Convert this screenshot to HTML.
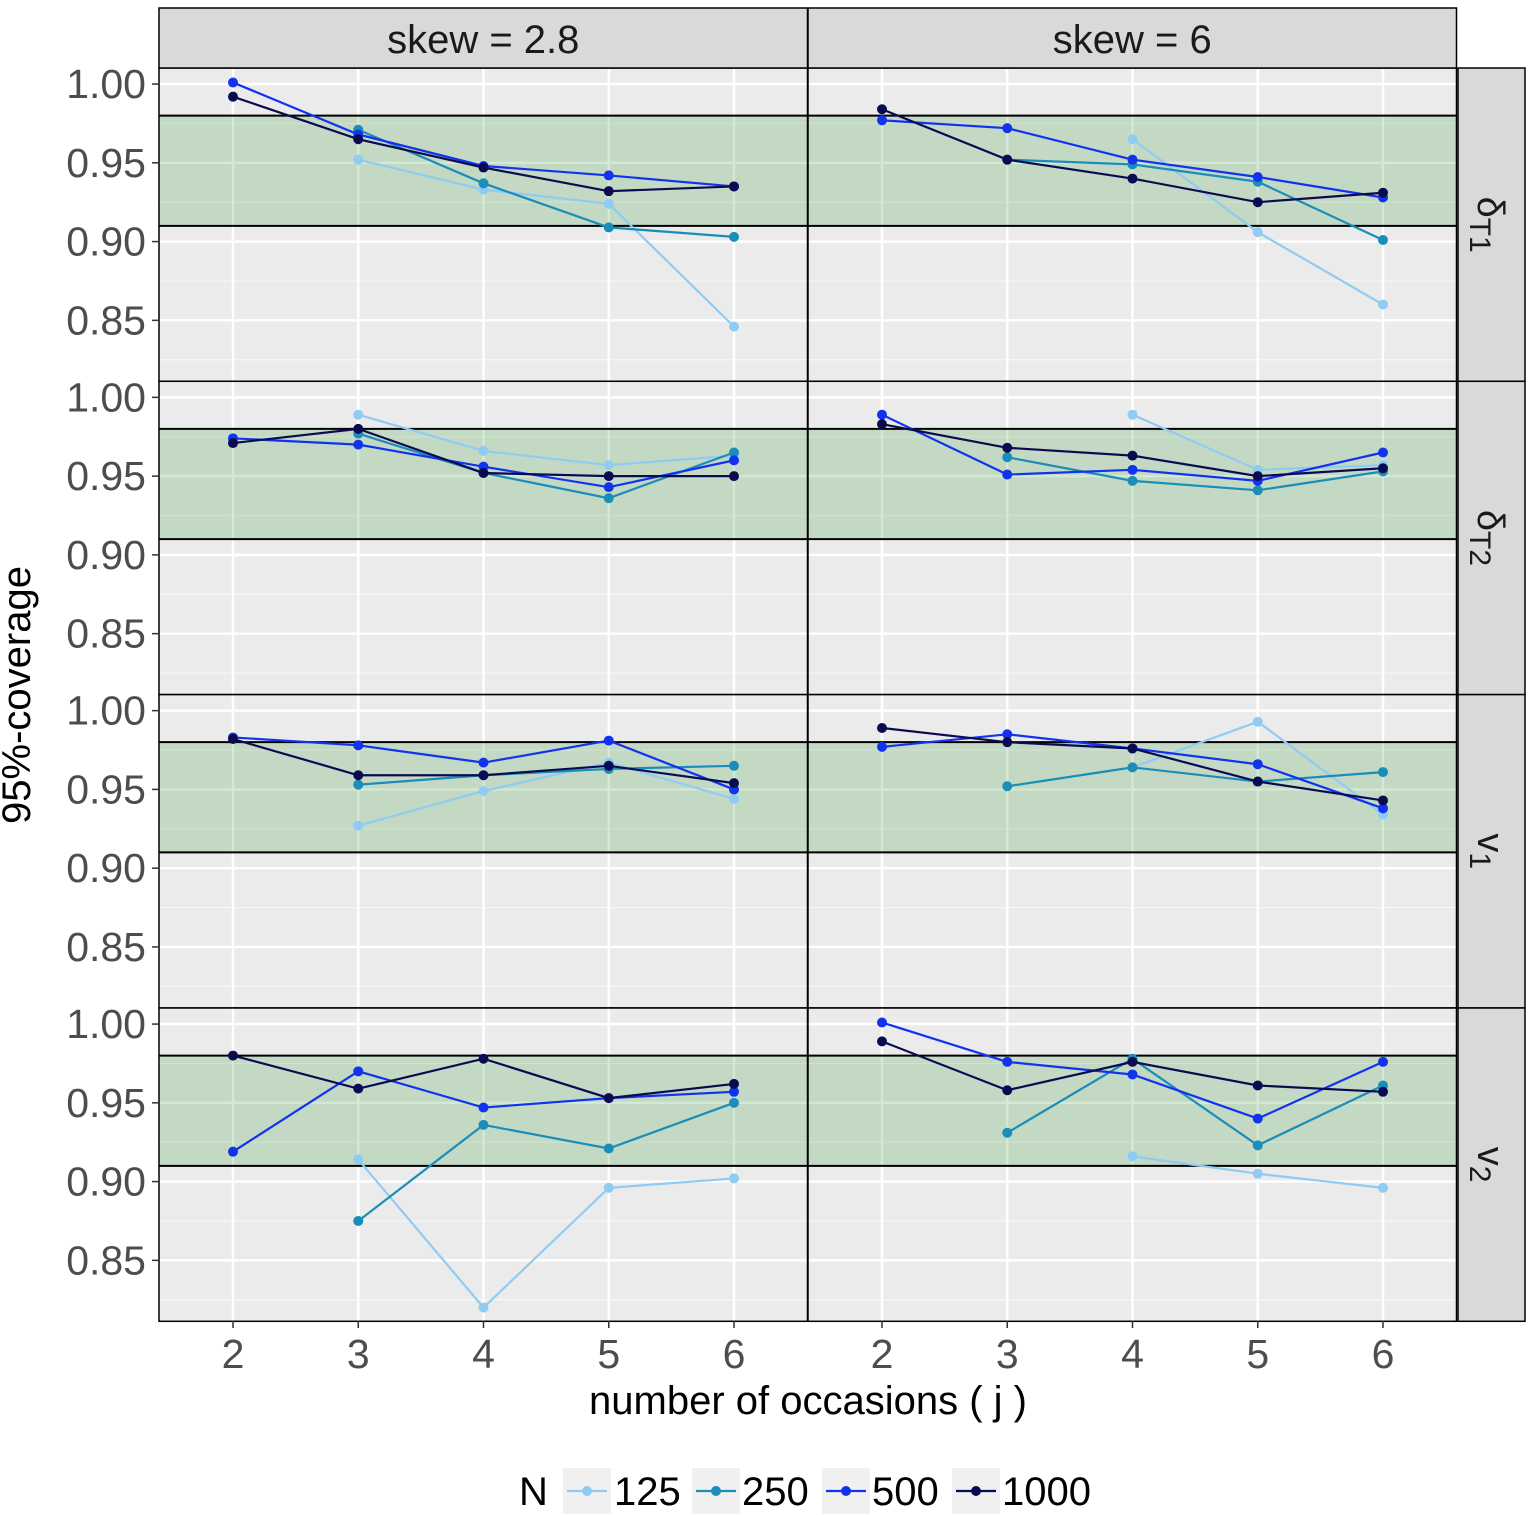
<!DOCTYPE html>
<html><head><meta charset="utf-8"><style>
html,body{margin:0;padding:0;background:#fff;}
svg{display:block;font-family:"Liberation Sans",sans-serif;}
</style></head><body>
<svg id="chart" width="1535" height="1515"></svg>
<script>
const categories=[2,3,4,5,6];
const seriesNames=["125","250","500","1000"];
const colors=["#8fcbf3","#1a8db8","#1233ee","#0b0b52"];
const rowLabels=[["δ","T1"],["δ","T2"],["v","1"],["v","2"]];
const colLabels=["skew = 2.8","skew = 6"];
const yTicks=[0.85,0.90,0.95,1.00];
const yTickLabels=["0.85","0.90","0.95","1.00"];
const bandLow=0.91, bandHigh=0.98;
const d_r0c0=[[null,0.952,0.933,0.924,0.846],[null,0.971,0.937,0.909,0.903],[1.001,0.968,0.948,0.942,0.935],[0.992,0.965,0.947,0.932,0.935]];
const d_r0c1=[[null,null,0.965,0.906,0.860],[null,0.952,0.949,0.938,0.901],[0.977,0.972,0.952,0.941,0.928],[0.984,0.952,0.940,0.925,0.931]];
const d_r1c0=[[null,0.989,0.966,0.957,0.963],[null,0.977,0.952,0.936,0.965],[0.974,0.970,0.956,0.943,0.960],[0.971,0.980,0.952,0.950,0.950]];
const d_r1c1=[[null,null,0.989,0.954,0.957],[null,0.962,0.947,0.941,0.953],[0.989,0.951,0.954,0.947,0.965],[0.983,0.968,0.963,0.950,0.955]];
const d_r2c0=[[null,0.927,0.949,0.967,0.944],[null,0.953,0.959,0.963,0.965],[0.983,0.978,0.967,0.981,0.950],[0.982,0.959,0.959,0.965,0.954]];
const d_r2c1=[[null,null,0.964,0.993,0.934],[null,0.952,0.964,0.955,0.961],[0.977,0.985,0.976,0.966,0.938],[0.989,0.980,0.976,0.955,0.943]];
const d_r3c0=[[null,0.914,0.820,0.896,0.902],[null,0.875,0.936,0.921,0.950],[0.919,0.970,0.947,0.953,0.957],[0.980,0.959,0.978,0.953,0.962]];
const d_r3c1=[[null,null,0.916,0.905,0.896],[null,0.931,0.978,0.923,0.961],[1.001,0.976,0.968,0.940,0.976],[0.989,0.958,0.976,0.961,0.957]];
const data=[[d_r0c0,d_r0c1],[d_r1c0,d_r1c1],[d_r2c0,d_r2c1],[d_r3c0,d_r3c1]];

const NS="http://www.w3.org/2000/svg";
const svg=document.getElementById('chart');
function mk(tag,attrs,parent){const e=document.createElementNS(NS,tag);for(const k in attrs)e.setAttribute(k,attrs[k]);(parent||svg).appendChild(e);return e;}
const colX=[159,808], panelW=648.5, rowY=[68,381.3,694.6,1008], panelH=313.3;
const yMin=0.8113, yMax=1.0102;
function yScale(r,v){return rowY[r]+panelH*(yMax-v)/(yMax-yMin);}
function xScale(c,j){return colX[c]+74+(j-2)*125.25;}

for(let r=0;r<4;r++){for(let c=0;c<2;c++){
  const g=mk('g',{});
  
  
  mk('rect',{x:colX[c],y:rowY[r],width:panelW,height:panelH,fill:'#ebebeb'},g);
  [0.825,0.875,0.925,0.975].forEach(v=>mk('line',{x1:colX[c],x2:colX[c]+panelW,y1:yScale(r,v),y2:yScale(r,v),stroke:'#f7f7f7','stroke-width':1.2},g));
  yTicks.forEach(v=>mk('line',{x1:colX[c],x2:colX[c]+panelW,y1:yScale(r,v),y2:yScale(r,v),stroke:'#fff','stroke-width':2.4},g));
  categories.forEach(j=>mk('line',{x1:xScale(c,j),x2:xScale(c,j),y1:rowY[r],y2:rowY[r]+panelH,stroke:'#fff','stroke-width':2.4},g));
  const band=mk('rect',{x:colX[c],y:yScale(r,bandHigh),width:panelW,height:yScale(r,bandLow)-yScale(r,bandHigh),fill:'#3c9a3c','fill-opacity':0.22},g);
  
  
  mk('line',{x1:colX[c],x2:colX[c]+panelW,y1:yScale(r,bandHigh),y2:yScale(r,bandHigh),stroke:'#000','stroke-width':2},g);
  mk('line',{x1:colX[c],x2:colX[c]+panelW,y1:yScale(r,bandLow),y2:yScale(r,bandLow),stroke:'#000','stroke-width':2},g);
  const ds=data[r][c];
  ds.forEach((vals,s)=>{
    const sg=mk('g',{},g);
    
    
    const pts=[];
    vals.forEach((v,i)=>{if(v!==null)pts.push([xScale(c,categories[i]),yScale(r,v)]);});
    mk('polyline',{points:pts.map(p=>p.join(',')).join(' '),fill:'none',stroke:colors[s],'stroke-width':2.2},sg);
    pts.forEach(p=>{const pt=mk('circle',{cx:p[0],cy:p[1],r:5,fill:colors[s]},sg);
      
      });
  });
  mk('rect',{x:colX[c],y:rowY[r],width:panelW,height:panelH,fill:'none',stroke:'#000','stroke-width':1.5},g);
}}
for(let r=0;r<4;r++){yTicks.forEach((v,i)=>{
  const t=mk('text',{x:146,y:yScale(r,v)+14,'text-anchor':'end','font-size':41,fill:'#4d4d4d'});
  t.textContent=yTickLabels[i];
  
  
  mk('line',{x1:152,x2:159,y1:yScale(r,v),y2:yScale(r,v),stroke:'#333','stroke-width':1.5});
});}
for(let c=0;c<2;c++){categories.forEach(j=>{
  mk('line',{x1:xScale(c,j),x2:xScale(c,j),y1:1321,y2:1328,stroke:'#333','stroke-width':1.5});
  const t=mk('text',{x:xScale(c,j),y:1368,'text-anchor':'middle','font-size':41,fill:'#4d4d4d'});
  t.textContent=j;
  
  
});}
for(let c=0;c<2;c++){
  mk('rect',{x:colX[c],y:8,width:panelW,height:60,fill:'#d9d9d9',stroke:'#000','stroke-width':1.5});
  const t=mk('text',{x:colX[c]+panelW/2,y:53,'text-anchor':'middle','font-size':40,fill:'#1a1a1a'});
  t.textContent=colLabels[c];
  
  
}
for(let r=0;r<4;r++){
  mk('rect',{x:1458,y:rowY[r],width:67,height:panelH,fill:'#d9d9d9',stroke:'#000','stroke-width':1.5});
  const cy=rowY[r]+panelH/2;
  const t=mk('text',{x:0,y:0,'font-size':38,fill:'#1a1a1a','text-anchor':'middle',transform:'translate(1478,'+cy+') rotate(90)'});
  
  
  const a=mk('tspan',{},t);a.textContent=rowLabels[r][0];
  const b=mk('tspan',{'font-size':30,dy:8},t);b.textContent=rowLabels[r][1];
}
let t=mk('text',{x:808,y:1414,'text-anchor':'middle','font-size':40,fill:'#000'});
t.textContent='number of occasions ( j )';


t=mk('text',{x:0,y:0,'text-anchor':'middle','font-size':40,fill:'#000',transform:'translate(30,695) rotate(-90)'});
t.textContent='95%-coverage';


t=mk('text',{x:519,y:1505,'font-size':40,fill:'#000'});
t.textContent='N';


const legX=[563,692,822,952], legTX=[614,742,872,1002];
seriesNames.forEach((n,s)=>{
  const g=mk('g',{});
  
  
  mk('rect',{x:legX[s],y:1468,width:48,height:46,fill:'#f0f0f0'},g);
  mk('line',{x1:legX[s]+4,x2:legX[s]+44,y1:1491,y2:1491,stroke:colors[s],'stroke-width':2.2},g);
  mk('circle',{cx:legX[s]+24,cy:1491,r:5,fill:colors[s]},g);
  const tt=mk('text',{x:legTX[s],y:1505,'font-size':40,fill:'#000'},g);
  tt.textContent=n;
});
</script>
</body></html>
